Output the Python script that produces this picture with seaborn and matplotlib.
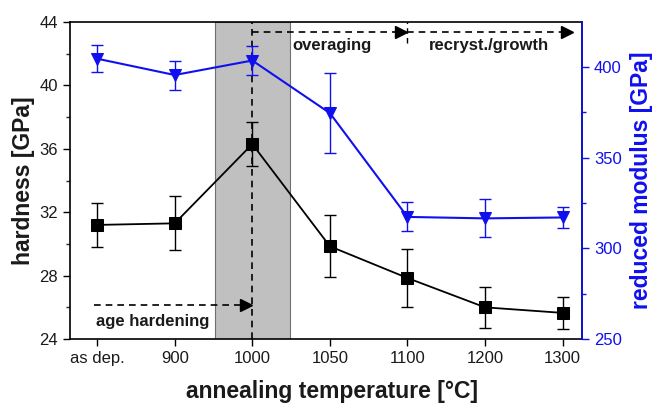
import matplotlib
matplotlib.use("Agg")
import matplotlib.pyplot as plt
import seaborn as sns
import numpy as np
from matplotlib.ticker import MultipleLocator

categories = ["as dep.", "900", "1000", "1050", "1100", "1200", "1300"]
hardness = [31.2, 31.3, 36.3, 29.85, 27.85, 26.0, 25.65]
hardness_err = [1.4, 1.7, 1.4, 1.95, 1.85, 1.3, 1.0]
modulus = [404.5, 395.5, 403.5, 374.5, 317.3, 316.5, 317.0]
modulus_err = [7.5, 8.0, 8.0, 22.0, 8.0, 10.5, 6.0]

sns.set_theme(style="ticks")
plt.rcParams['font.family'] = ['Liberation Sans', 'DejaVu Sans']

BLUE = "#1010ee"
TXT = "#1a1a1a"

fig = plt.figure(figsize=(6.54, 4.08), dpi=100)
ax = fig.add_axes([0.107, 0.169, 0.783, 0.777])
x = np.arange(len(categories))

# shaded band
ax.axvspan(1.52, 2.48, facecolor="#c0c0c0", edgecolor="#707070", lw=0.8, zorder=0)

# hardness
sns.lineplot(x=x, y=hardness, ax=ax, color="black", marker="s", markersize=8,
             markeredgecolor="black", lw=1.3, zorder=3)
ax.errorbar(x, hardness, yerr=hardness_err, fmt="none", ecolor="black",
            elinewidth=1.0, capsize=4, capthick=1.0, zorder=3)

ax.set_xlim(-0.35, 6.25)
ax.set_ylim(24, 44)
ax.set_xticks(x)
ax.set_xticklabels(categories)
ax.yaxis.set_major_locator(MultipleLocator(4))
ax.yaxis.set_minor_locator(MultipleLocator(2))
ax.tick_params(axis="both", which="major", labelsize=12, length=5, width=1, direction="out",
               colors="black", labelcolor=TXT)
ax.tick_params(axis="y", which="minor", length=3, width=1, direction="out")
for s in ax.spines.values():
    s.set_linewidth(1.2)
    s.set_color("black")
ax.set_xlabel("annealing temperature [°C]", fontsize=16.5, fontweight="bold", color=TXT)
ax.set_ylabel("hardness [GPa]", fontsize=16.5, fontweight="bold", labelpad=3, color=TXT)
ax.xaxis.set_label_coords(0.5 + 6 / 512, -0.13)

# modulus
ax2 = ax.twinx()
sns.lineplot(x=x, y=modulus, ax=ax2, color=BLUE, marker="v", markersize=9,
             markeredgecolor=BLUE, lw=1.5, zorder=3)
ax2.errorbar(x, modulus, yerr=modulus_err, fmt="none", ecolor=BLUE,
             elinewidth=1.0, capsize=4, capthick=1.0, zorder=3)
ax2.set_ylim(250, 424.7)
ax2.set_yticks([250, 300, 350, 400])
ax2.yaxis.set_minor_locator(MultipleLocator(25))
ax2.tick_params(axis="y", which="major", labelsize=12, length=5, width=1, direction="out",
                colors=BLUE, labelcolor=BLUE)
ax2.tick_params(axis="y", which="minor", length=3, width=1, direction="out", colors=BLUE)
ax2.spines["right"].set_color(BLUE)
ax2.spines["right"].set_linewidth(1.2)
for k in ["left", "top", "bottom"]:
    ax2.spines[k].set_visible(False)
ax2.set_ylabel("reduced modulus [GPa]", fontsize=16.5, fontweight="bold", color=BLUE, labelpad=6)

# annotations (on hardness axis)
dash = (0, (4, 3))
ax.plot([2, 2], [24, 44], color="black", ls=dash, lw=1.2, zorder=2)
ax.plot([4, 4], [42.7, 44], color="black", ls=dash, lw=1.0, zorder=2)

def arrow(x0, x1, y):
    ax.plot([x0, x1 - 0.12], [y, y], color="black", ls=dash, lw=1.2, zorder=4)
    ax.plot([x1 - 0.08], [y], marker=">", color="black", markersize=8, zorder=4)

arrow(-0.04, 2.0, 26.15)
arrow(2.0, 4.0, 43.4)
arrow(4.0, 6.13, 43.4)

ax.text(-0.01, 25.1, "age hardening", fontsize=12, fontweight="bold", va="center", ha="left", zorder=5, color=TXT)
ax.text(2.52, 42.55, "overaging", fontsize=12, fontweight="bold", va="center", ha="left", zorder=5, color=TXT)
ax.text(5.05, 42.55, "recryst./growth", fontsize=12, fontweight="bold", va="center", ha="center", zorder=5, color=TXT)

fig.savefig("out.png", dpi=100)
